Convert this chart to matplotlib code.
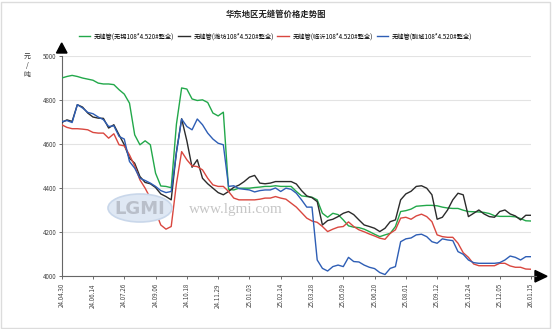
import matplotlib
matplotlib.use("Agg")
import matplotlib.pyplot as plt
from matplotlib.patches import Ellipse, Rectangle, Polygon
from matplotlib.lines import Line2D
import numpy as np

plt.rcParams['font.family'] = ['Noto Sans CJK SC', 'DejaVu Sans']

# x-axis category labels (one every 6 samples)
tick_labels = ["24.04.30", "24.06.14", "24.07.26", "24.09.06", "24.10.18", "24.11.29",
               "25.01.03", "25.02.14", "25.03.28", "25.05.09", "25.06.20", "25.08.01",
               "25.09.12", "25.10.24", "25.12.05", "26.01.15"]

series_names = ["无缝管(无锡108*4.520#整全)", "无缝管(潍坊108*4.520#整全)",
                "无缝管(临沂108*4.520#整全)", "无缝管(聊城108*4.520#整全)"]

wuxi = [4900, 4907, 4912, 4907, 4900, 4895, 4890, 4877, 4873, 4873, 4870, 4847, 4827, 4786,
        4642, 4597, 4615, 4597, 4468, 4410, 4408, 4402, 4690, 4855, 4850, 4805, 4798, 4801,
        4789, 4741, 4728, 4745, 4395, 4392, 4400, 4400, 4400, 4403, 4405, 4408, 4408, 4411,
        4408, 4408, 4408, 4385, 4365, 4362, 4359, 4347, 4286, 4268, 4286, 4280, 4256, 4229,
        4223, 4221, 4214, 4203, 4191, 4180, 4188, 4195, 4226, 4294, 4298, 4305, 4318, 4320,
        4322, 4322, 4320, 4314, 4310, 4308, 4308, 4300, 4294, 4293, 4292, 4290, 4285, 4275,
        4272, 4272, 4272, 4270, 4262, 4252, 4251]

weifang = [4698, 4710, 4703, 4779, 4768, 4741, 4723, 4718, 4717, 4673, 4688, 4642, 4597, 4536,
           4513, 4453, 4426, 4420, 4403, 4374, 4362, 4347, 4565, 4715, 4615, 4495, 4529, 4445,
           4420, 4400, 4380, 4370, 4385, 4404, 4414, 4430, 4450, 4458, 4423, 4420, 4423, 4430,
           4430, 4430, 4430, 4419, 4389, 4365, 4357, 4339, 4233, 4253, 4259, 4271, 4286, 4294,
           4280, 4256, 4233, 4226, 4218, 4203, 4218, 4248, 4256, 4347, 4374, 4386, 4408, 4411,
           4400, 4370, 4259, 4268, 4301, 4347, 4377, 4370, 4271, 4286, 4301, 4283, 4271, 4268,
           4294, 4301, 4283, 4274, 4256, 4277, 4277]

linyi = [4688, 4676, 4670, 4670, 4668, 4665, 4653, 4650, 4650, 4627, 4647, 4597, 4592, 4551,
         4501, 4438, 4400, 4355, 4295, 4233, 4214, 4226, 4420, 4566, 4529, 4501, 4498, 4483,
         4445, 4415, 4408, 4408, 4385, 4355, 4347, 4347, 4347, 4347, 4350, 4355, 4355, 4362,
         4355, 4350, 4332, 4314, 4289, 4264, 4251, 4245, 4226, 4203, 4214, 4223, 4226, 4247,
         4226, 4211, 4202, 4192, 4183, 4173, 4168, 4195, 4211, 4264, 4268, 4259, 4274, 4282,
         4271, 4248, 4188, 4180, 4177, 4177, 4150, 4107, 4086, 4056, 4048, 4048, 4048, 4048,
         4059, 4059, 4047, 4041, 4041, 4033, 4032]

liaocheng = [4702, 4707, 4698, 4779, 4764, 4744, 4738, 4723, 4711, 4680, 4683, 4635, 4623, 4521,
             4491, 4445, 4435, 4423, 4408, 4389, 4380, 4385, 4560, 4714, 4680, 4665, 4714, 4688,
             4650, 4623, 4604, 4597, 4408, 4411, 4398, 4395, 4392, 4383, 4389, 4392, 4392, 4401,
             4385, 4400, 4395, 4377, 4347, 4314, 4314, 4074, 4036, 4024, 4044, 4051, 4044, 4086,
             4067, 4065, 4051, 4041, 4035, 4017, 4008, 4036, 4044, 4157, 4170, 4174, 4188, 4191,
             4180, 4157, 4150, 4170, 4165, 4162, 4112, 4100, 4074, 4062, 4059, 4059, 4059, 4059,
             4062, 4074, 4092, 4086, 4074, 4089, 4089]

y_ticks = [4000, 4200, 4400, 4600, 4800, 5000]

colors = ["#22a84a", "#2b2b2b", "#d9473f", "#2e5eb5"]

W, H = 553, 329


def fig_xy(px, py):
    return px / W, 1 - py / H


fig = plt.figure(figsize=(W / 100, H / 100), dpi=100)
fig.patch.set_facecolor("white")

# outer frame
fig.add_artist(Rectangle((0.002, 0.004), 0.993, 0.99, transform=fig.transFigure,
                         fill=False, edgecolor="#dcdcdc", linewidth=1.0))

ax_left, ax_right, ax_top, ax_bottom = 61.7, 531.0, 56.0, 276.3
ax = fig.add_axes([ax_left / W, 1 - ax_bottom / H, (ax_right - ax_left) / W,
                   (ax_bottom - ax_top) / H])

x = np.arange(len(wuxi))
for vals, name, c in zip([wuxi, weifang, linyi, liaocheng], series_names, colors):
    ax.plot(x, vals, color=c, linewidth=1.0, label=name, zorder=3)

ax.set_xlim(0, len(wuxi) - 1)
ax.set_ylim(4000, 5000)
ax.set_yticks(y_ticks)
ax.set_yticklabels([str(v) for v in y_ticks])
ax.set_xticks(np.arange(0, len(wuxi), 6))
ax.set_xticklabels(tick_labels, rotation=90)
ax.tick_params(axis="both", labelsize=4.5, colors="#555555", length=2.5, width=0.6, pad=1)
ax.tick_params(axis="x", pad=2.5)
for lab in ax.get_xticklabels() + ax.get_yticklabels():
    lab.set_color("#444444")

ax.grid(axis="y", color="#e3e3e3", linewidth=0.8)
ax.set_axisbelow(True)
for side in ["top", "right"]:
    ax.spines[side].set_visible(False)
for side in ["left", "bottom"]:
    ax.spines[side].set_color("#666666")
    ax.spines[side].set_linewidth(0.8)

# axis arrows
fig.add_artist(Line2D([ax_right / W, 536 / W], [1 - ax_bottom / H] * 2,
                      transform=fig.transFigure, color="#666666", linewidth=0.8))
fig.add_artist(Polygon([fig_xy(535, 270.5), fig_xy(547, 276.3), fig_xy(535, 282)],
                       closed=True, transform=fig.transFigure, facecolor="black",
                       edgecolor="black"))
fig.add_artist(Polygon([fig_xy(56.5, 53), fig_xy(61.7, 43), fig_xy(67, 53)],
                       closed=True, transform=fig.transFigure, facecolor="black",
                       edgecolor="black"))

# watermark
fig.add_artist(Ellipse(fig_xy(140, 208), 64 / W, 28 / H, transform=fig.transFigure,
                       facecolor="#dfe8f4", edgecolor="#c9d7ea", linewidth=1.2, zorder=1))
fig.text(*fig_xy(140, 209), "LGMI", transform=fig.transFigure, fontsize=13,
         fontweight="bold", color="#b9bfca", ha="center", va="center",
         family="DejaVu Sans", zorder=1.5)
fig.text(*fig_xy(236, 210), "www.lgmi.com", transform=fig.transFigure, fontsize=11,
         color="#c6c6c6", ha="center", va="center", family="Liberation Serif", zorder=1.5)
ax.patch.set_alpha(0)

# title, unit label, legend
fig.text(0.5, 1 - 14.5 / H, "华东地区无缝管价格走势图", ha="center", va="center",
         fontsize=6, fontweight="bold", color="#222222")
fig.text(27 / W, 1 - 66 / H, "元\n/\n吨", ha="center", va="center", fontsize=5,
         color="#333333", linespacing=1.1, rotation=0)

fig.legend(loc="center", bbox_to_anchor=(275.5 / W, 1 - 36.5 / H), ncol=4, frameon=False,
           fontsize=4.5, handlelength=1.8, handletextpad=0.6, columnspacing=0.6,
           borderaxespad=0, borderpad=0)

fig.savefig("out.png", dpi=100, facecolor="white")
